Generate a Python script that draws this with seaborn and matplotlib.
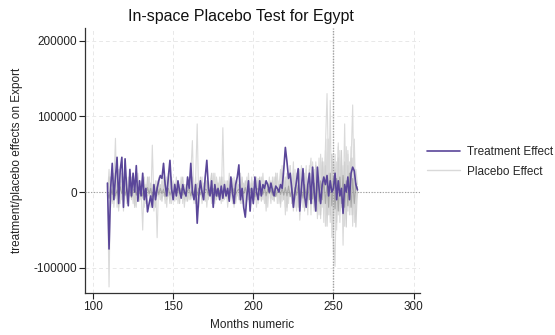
import numpy as np
import pandas as pd
import matplotlib
matplotlib.use("Agg")
import matplotlib.pyplot as plt
from matplotlib.lines import Line2D
import seaborn as sns

# ---- data (values in thousands, months 109..265) ----
month_start = 109
month_end = 265

treatment_k = [
    12, -75, 5, 38, -10, 20, 46, -15, 30, 46, -20, 44,
    5, -18, 30, -5, 25, 0, 35, -12, 15, -5,
    25, -10, 5, -26, -15, -5, -20, 10, -10, 5,
    15, 22, 18, 38, 10, -5, 20, 42, 5, -10,
    10, -5, 15, 2, -8, 10, 0, -5, 20, 5,
    38, 0, -10, 10, -41, -5, 15, 0, -10, 20,
    42, 5, -5, 15, -20, 10, -5, 5, -10, 8,
    -8, 10, -5, 5, -12, 20, 0, -15, 10, 20,
    36, -10, 5, -20, -33, -5, 15, -25, 5, -15,
    20, 0, -10, 15, -5, 10, 5, 15, 10, 0,
    12, 2, -5, 8, 5, 0, 10, 5, 30, 59,
    40, 18, 25, 5, -20, 0, 15, 31, -25, 5,
    31, -5, -20, 10, 25, -15, 33, 0, -25, 33,
    5, -15, 10, 20, 10, 22, -5, 15, 0, 5,
    25, -10, 15, -5, 5, -28, 10, 0, 20, -10,
    25, 33, 28, 10, 3,
]

placebo1_k = [
    8, -125, 20, -15, 10, 71, -20, 15, -10, 25, -5, 10,
    -15, 20, 5, -10, 15, -20, 10, 5, -8, 12,
    -5, 15, -12, 8, 20, -10, 5, -15, 10, -5,
    12, -8, 15, 5, -10, 20, -5, 10, -15, 8,
    5, -10, 12, -5, 15, -8, 10, -12, 5, 15,
    -10, 8, -5, 20, -15, 10, 5, -8, 12, -5,
    15, -10, 8, -5, 10, -15, 20, 5, -10, 12,
    -5, 15, -8, 10, -12, 5, 18, -10, 8, -5,
    10, -15, 5, 12, -8, 20, -10, 5, 15, -12,
    8, -5, 18, -10, 12, 5, -15, 10, -8, 20,
    -5, 12, -10, 25, -15, 8, 30, -12, 15, -20,
    25, -10, 35, -15, 20, 5, -25, 30, -10, 15,
    -20, 25, 10, -30, 35, -15, 20, -25, 40, -10,
    30, -35, 45, -20, 60, 130, 20, -40, 50, -60,
    -98, 40, -30, 55, -20, 35, -45, 60, -25, 40,
    -30, 45, 20, -15, 5,
]

placebo2_k = [
    -5, 30, -20, 10, -15, 20, 5, -25, 15, -10, 20, -5,
    10, -15, 25, -8, 5, -20, 15, 10, -12, 5,
    -50, 20, -10, 15, 5, -20, 62, -15, 10, -5,
    15, -10, 5, 20, -15, 10, -5, 25, -10, 8,
    -12, 15, 5, -10, 20, -15, 10, -5, 15, -8,
    10, 20, -10, 15, 90, -20, 10, -15, 5, 20,
    -10, 15, -5, 10, -20, 25, -10, 5, 15, -12,
    20, -8, 10, -15, 25, -5, 12, -20, 15, 5,
    -10, 20, -15, 10, 5, -12, 25, -8, 15, -10,
    5, 20, -15, 10, -5, 25, -10, 15, -20, 10,
    15, -10, 20, -5, 25, -15, 10, 35, -10, 20,
    -25, 15, 30, -10, 40, -20, 25, 10, -30, 35,
    15, -20, 30, -10, 25, 45, -15, 30, -25, 20,
    -30, 50, -20, 40, -45, 70, -30, 121, -60, 40,
    30, -50, 65, -25, 45, -70, 35, -30, 55, -20,
    40, 115, -40, 30, 10,
]

placebo3_k = [
    3, 15, -10, 25, -20, 12, -8, 30, -15, 10, -25, 20,
    -10, 15, -5, 20, -15, 10, -20, 25, 5, -10,
    15, -20, 10, -5, 20, -15, 10, -25, 15, -60,
    20, -10, 15, -5, 10, -20, 25, -10, 5, 15,
    -10, 20, -15, 10, -5, 15, -20, 10, 5, -10,
    25, 68, -15, 10, -20, 15, -5, 20, -10, 15,
    -20, 10, 5, -15, 25, -10, 15, -5, 20, -15,
    85, -10, 15, -20, 10, 5, -15, 20, -10, 15,
    -5, 25, -15, 10, -20, 15, 5, -10, 20, -15,
    10, -20, 15, -5, 20, -10, 15, -25, 10, 5,
    -15, 20, -10, 25, -5, 15, -20, 10, 25, -30,
    20, -15, 35, 10, -25, 30, -10, 20, -37, 15,
    25, -20, 35, -15, 20, -30, 40, -10, 25, -35,
    45, -25, 30, -40, 55, -30, 70, -20, 40, -80,
    50, -30, 60, -40, 35, -25, 90, -35, 50, -30,
    60, -45, 70, -20, 8,
]

placebo4_k = [
    -2, 20, 10, -12, 25, -8, 15, -20, 10, 5, -15, 12,
    8, -10, 15, -5, 12, -18, 10, 5, -10, 15,
    -8, 10, -15, 20, -5, 12, -10, 8, -20, 15,
    -5, 10, -12, 8, 15, -10, 5, -15, 20, -8,
    12, -5, 10, -15, 8, 20, -10, 5, -12, 15,
    -8, 10, 5, -15, 12, -5, 20, -10, 8, -12,
    15, -8, 10, 25, -15, 5, -10, 12, -5, 20,
    -12, 8, -5, 15, -10, 20, -8, 12, -15, 5,
    10, -12, 20, -5, 15, -10, 8, -15, 12, 5,
    -10, 15, -5, 20, -12, 8, 10, -15, 5, 12,
    -8, 15, -12, 20, -5, 10, -15, 25, -10, 15,
    -20, 10, 20, -15, 25, -10, 15, -20, 30, -5,
    15, -25, 20, -10, 30, -15, 25, -20, 35, -25,
    20, -30, 40, -15, 35, -45, 25, -30, 50, -35,
    30, -40, 45, -25, 55, -30, 40, -46, 35, -20,
    45, -30, 25, -46, 6,
]

placebo5_k = [
    1, -8, 5, -3, 8, -5, 3, -6, 7, -2, 5, -4,
    6, -3, 4, -7, 2, 5, -4, 6, -2, 3,
    -5, 4, -3, 6, -2, 5, -6, 3, -4, 7,
    -3, 5, -2, 4, -6, 3, 5, -4, 2, -5,
    4, -3, 6, -2, 5, -4, 3, -6, 2, 4,
    -5, 3, -2, 6, -4, 5, -3, 2, -5, 4,
    3, -4, 6, -2, 5, -3, 4, -6, 2, 5,
    -3, 4, -5, 3, -2, 6, -4, 5, -3, 2,
    4, -5, 3, -2, 6, -4, 2, 5, -3, 4,
    -6, 3, 5, -4, 2, -3, 6, -5, 4, -2,
    3, -4, 5, -6, 2, 4, -3, 5, -4, 6,
    -5, 8, -6, 4, -8, 6, -4, 9, -7, 5,
    -8, 10, -6, 8, -10, 7, -9, 12, -8, 10,
    -12, 15, -10, 18, -15, 12, -20, 25, -18, 20,
    -22, 18, -25, 20, -15, 22, -20, 15, -18, 25,
    -20, 18, -15, 12, 2,
]

placebo_series = {
    "p1": placebo1_k, "p2": placebo2_k, "p3": placebo3_k,
    "p4": placebo4_k, "p5": placebo5_k,
}

x_ticks = [100, 150, 200, 250, 300]
y_ticks = [-100000, 0, 100000, 200000]
y_tick_labels = ["-100000", "0", "100000", "200000"]
treatment_label = "Treatment Effect"
placebo_label = "Placebo Effect"
title = "In-space Placebo Test for Egypt"
x_label = "Months numeric"
y_label = "treatment/placebo effects on Export"

# ---- build tables ----
months = list(range(month_start, month_end + 1))
treat_df = pd.DataFrame({"month": months[:len(treatment_k)],
                         "effect": [v * 1000 for v in treatment_k]})
rows = []
for name, vals in placebo_series.items():
    for m, v in zip(months, vals):
        rows.append((name, m, v * 1000))
plac_df = pd.DataFrame(rows, columns=["unit", "month", "effect"])

# ---- plot ----
sns.set_style("white")
plt.rcParams["font.family"] = ["Liberation Sans", "DejaVu Sans"]

fig = plt.figure(figsize=(5.55, 3.35), dpi=100)
ax = fig.add_axes([85 / 555, 42 / 335, 335 / 555, 265 / 335])

# grid
for xt in x_ticks:
    ax.axvline(xt, color="#e8e8e8", lw=0.7, ls=(0, (4, 3)), zorder=0)
for yt in y_ticks:
    ax.axhline(yt, color="#e8e8e8", lw=0.7, ls=(0, (4, 3)), zorder=0)

placebo_colors = {"p1": "#dadada", "p2": "#dadada", "p3": "#dadada",
                  "p4": "#d0d0d0", "p5": "#a8a8a8"}
for name in placebo_series:
    sub = plac_df[plac_df["unit"] == name]
    sns.lineplot(data=sub, x="month", y="effect", ax=ax,
                 color=placebo_colors[name], lw=0.8, zorder=2)

ax.axhline(0, color="#9a9a9a", lw=0.8, ls=(0, (1, 1.5)), zorder=3)
ax.axvline(250, color="#a0a0a0", lw=1.0, ls=(0, (1, 1.0)), zorder=3)

sns.lineplot(data=treat_df, x="month", y="effect", ax=ax,
             color="#5a4699", lw=1.2, zorder=4)

ax.set_xlim(95, 304)
ax.set_ylim(-133000, 216500)
ax.set_xticks(x_ticks)
ax.set_xticklabels([str(t) for t in x_ticks])
ax.set_yticks(y_ticks)
ax.set_yticklabels(y_tick_labels)
ax.tick_params(axis="both", labelsize=8.5, length=4, width=0.8,
               direction="out", colors="#222222", pad=2)
ax.tick_params(axis="both", which="both", bottom=True, left=True)
for s in ["top", "right"]:
    ax.spines[s].set_visible(False)
for s in ["left", "bottom"]:
    ax.spines[s].set_color("#333333")
    ax.spines[s].set_linewidth(0.9)

ax.set_xlabel(x_label, fontsize=8.5, color="#222222", labelpad=4)
ax.set_ylabel(y_label, fontsize=8.5, color="#222222", labelpad=7)
fig.text(0.435, 1 - 16 / 335, title, ha="center", va="center",
         fontsize=11.5, color="#111111")

handles = [Line2D([0], [0], color="#5a4699", lw=1.2),
           Line2D([0], [0], color="#d9d9d9", lw=1.0)]
fig.legend(handles, [treatment_label, placebo_label], loc="center left",
           bbox_to_anchor=(422 / 555, 1 - 162 / 335), frameon=False,
           fontsize=8.5, handlelength=2.8, handletextpad=0.6,
           labelspacing=0.6, borderaxespad=0)

fig.savefig("out.png", dpi=100)
